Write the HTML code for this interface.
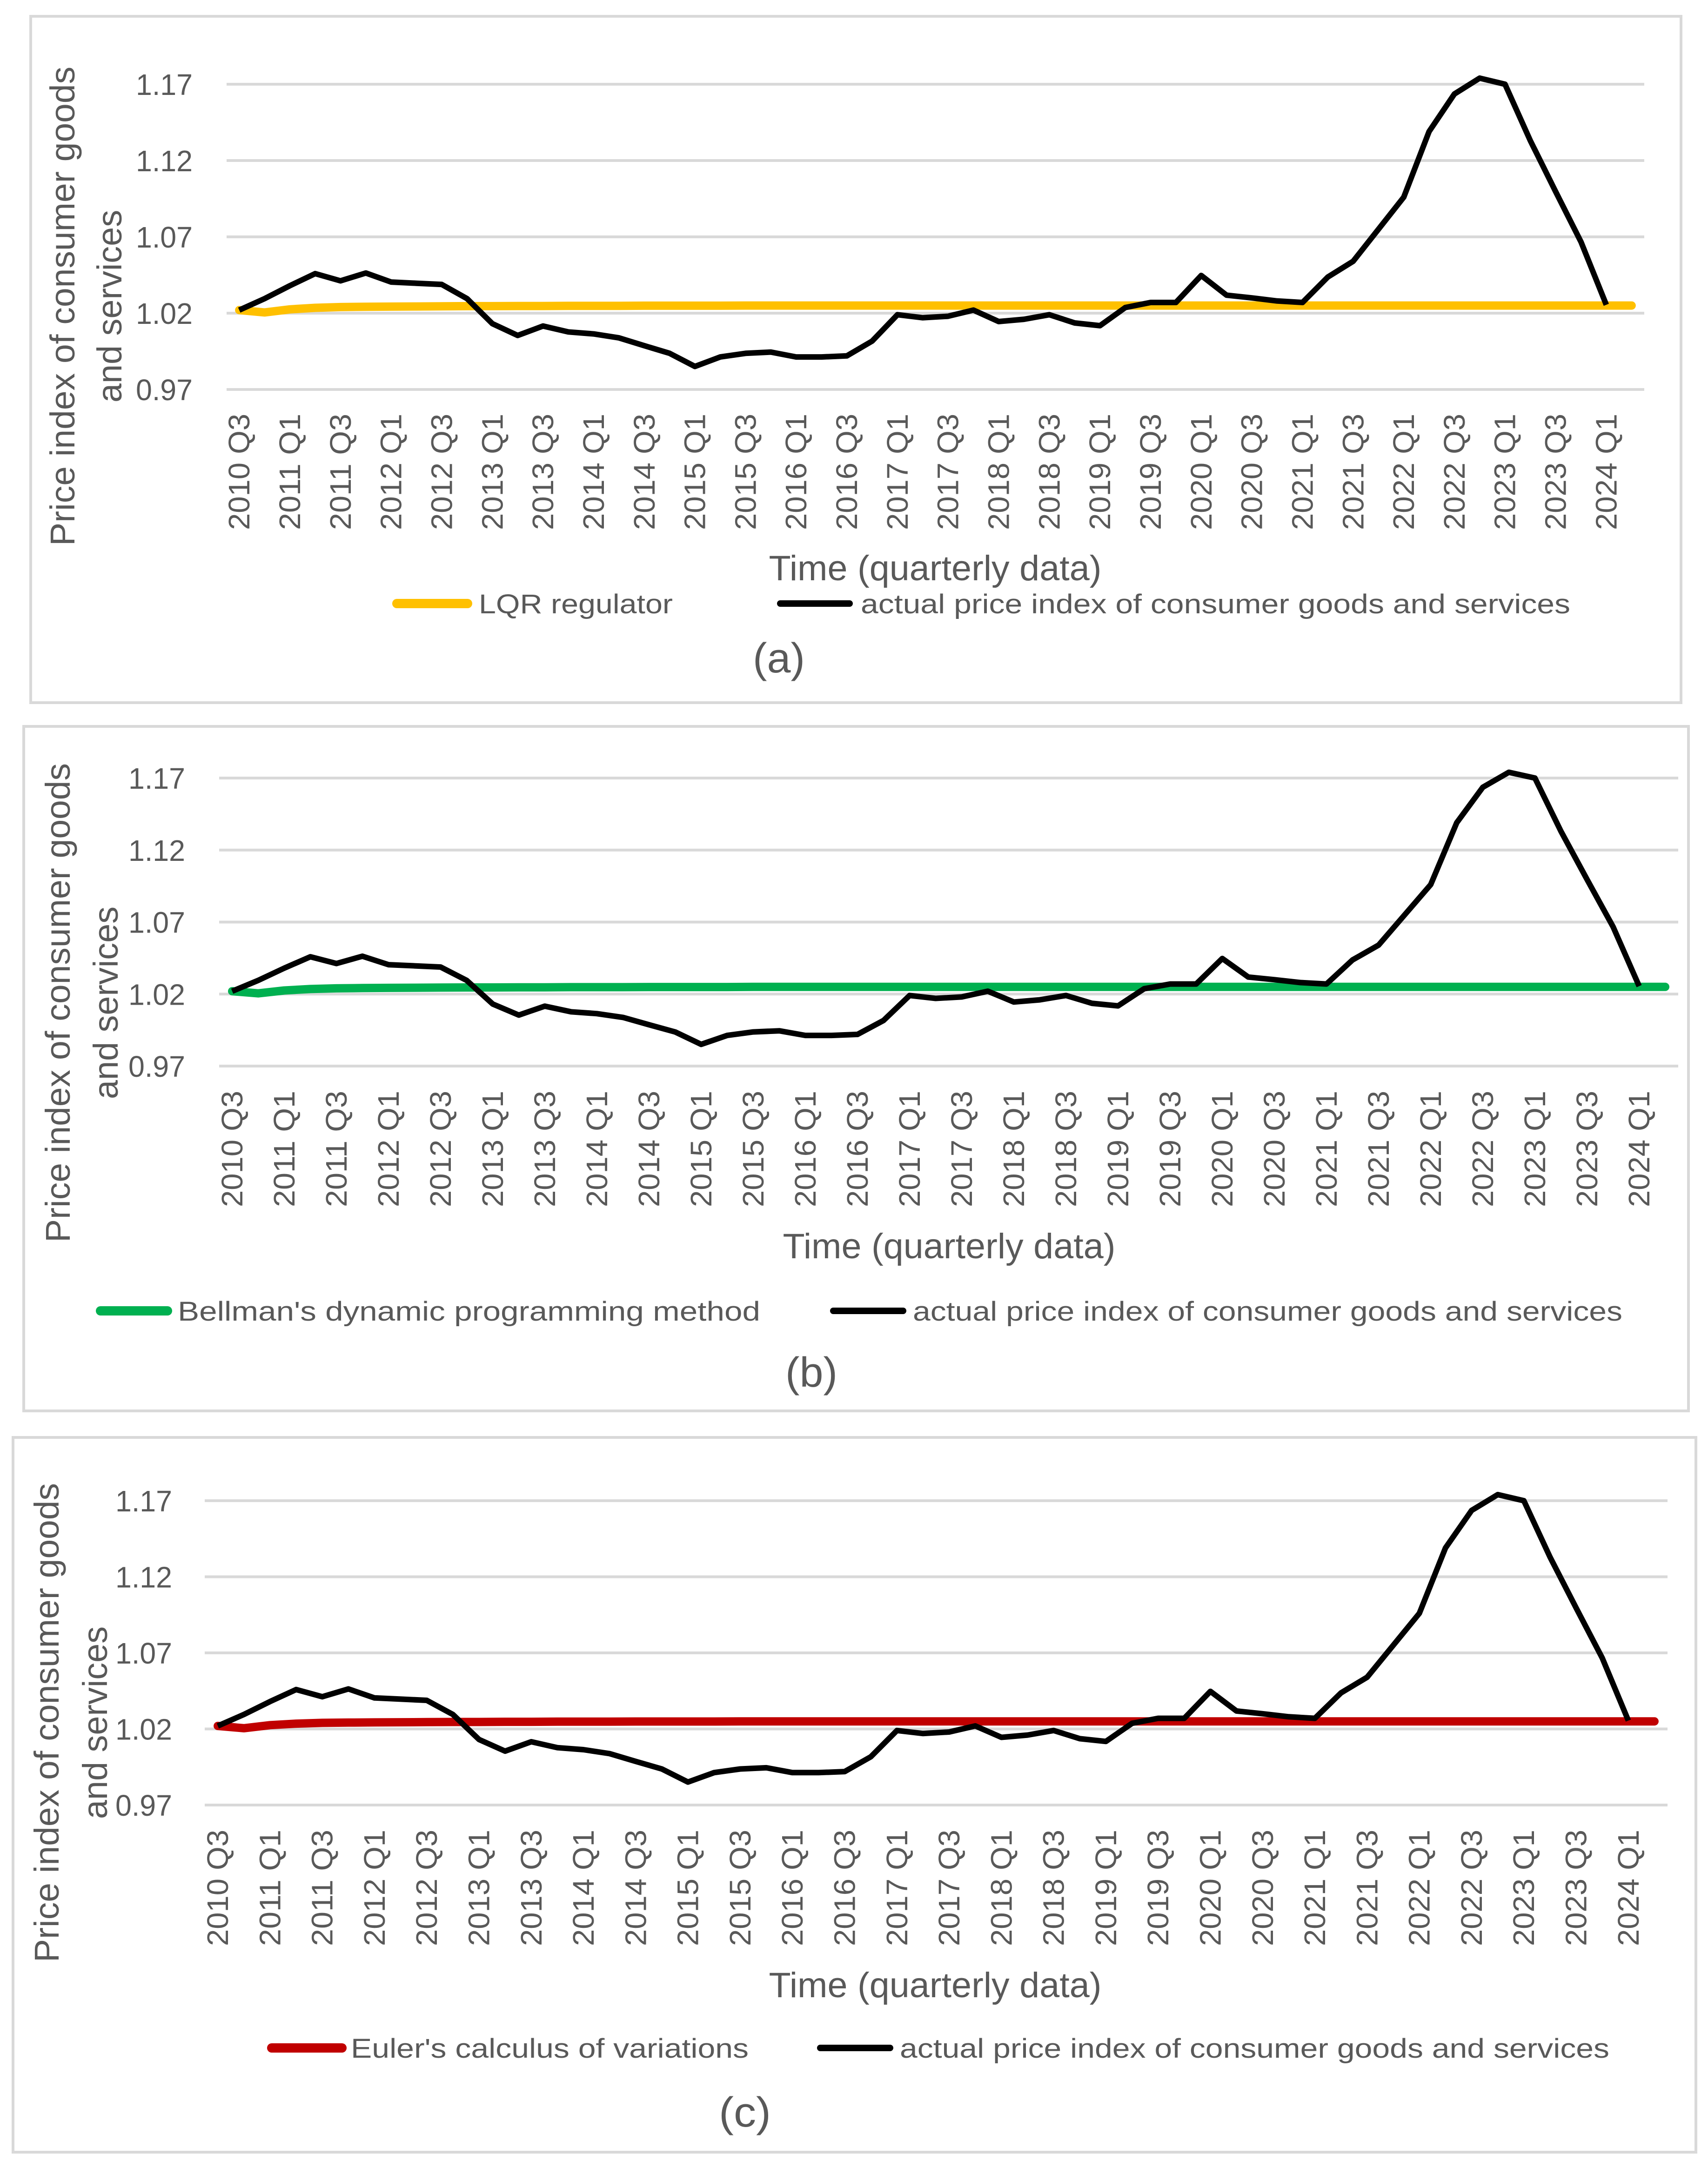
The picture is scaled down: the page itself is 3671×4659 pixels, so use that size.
<!DOCTYPE html>
<html><head><meta charset="utf-8"><style>
html,body{margin:0;padding:0;background:#fff;}
svg{display:block;}
text{font-family:"Liberation Sans",sans-serif;fill:#595959;}
</style></head>
<body>
<svg id="fig" width="3671" height="4659" viewBox="0 0 3671 4659" xmlns="http://www.w3.org/2000/svg"></svg>
<script>
const categories=["2010 Q3","2010 Q4","2011 Q1","2011 Q2","2011 Q3","2011 Q4","2012 Q1","2012 Q2","2012 Q3","2012 Q4","2013 Q1","2013 Q2","2013 Q3","2013 Q4","2014 Q1","2014 Q2","2014 Q3","2014 Q4","2015 Q1","2015 Q2","2015 Q3","2015 Q4","2016 Q1","2016 Q2","2016 Q3","2016 Q4","2017 Q1","2017 Q2","2017 Q3","2017 Q4","2018 Q1","2018 Q2","2018 Q3","2018 Q4","2019 Q1","2019 Q2","2019 Q3","2019 Q4","2020 Q1","2020 Q2","2020 Q3","2020 Q4","2021 Q1","2021 Q2","2021 Q3","2021 Q4","2022 Q1","2022 Q2","2022 Q3","2022 Q4","2023 Q1","2023 Q2","2023 Q3","2023 Q4","2024 Q1","2024 Q2"];
const actualValues=[1.022,1.0295,1.038,1.0459,1.0412,1.0463,1.0404,1.0396,1.0388,1.0295,1.0131,1.0054,1.0116,1.0077,1.0064,1.0038,0.9987,0.9937,0.9851,0.9913,0.9937,0.9945,0.9913,0.9913,0.992,1.0017,1.019,1.017,1.018,1.022,1.0145,1.016,1.019,1.0136,1.0118,1.0237,1.027,1.027,1.0447,1.0318,1.030,1.028,1.027,1.0437,1.054,1.075,1.096,1.139,1.1636,1.174,1.170,1.133,1.0996,1.0667,1.0255];
const lqrValues=[1.022,1.0205,1.0225,1.0235,1.024,1.0242,1.0243,1.0244,1.0245,1.0246,1.0246,1.0247,1.0247,1.0248,1.0248,1.0248,1.0249,1.0249,1.0249,1.0249,1.025,1.025,1.025,1.025,1.025,1.025,1.025,1.025,1.025,1.025,1.025,1.025,1.025,1.025,1.025,1.025,1.025,1.025,1.025,1.025,1.025,1.025,1.025,1.025,1.025,1.025,1.025,1.025,1.025,1.025,1.025,1.025,1.025,1.025,1.025,1.025];
const bellmanValues=[1.022,1.0205,1.0225,1.0235,1.024,1.0242,1.0243,1.0244,1.0245,1.0246,1.0246,1.0247,1.0247,1.0248,1.0248,1.0248,1.0249,1.0249,1.0249,1.0249,1.025,1.025,1.025,1.025,1.025,1.025,1.025,1.025,1.025,1.025,1.025,1.025,1.025,1.025,1.025,1.025,1.025,1.025,1.025,1.025,1.025,1.025,1.025,1.025,1.025,1.025,1.025,1.025,1.025,1.025,1.025,1.025,1.025,1.025,1.025,1.025];
const eulerValues=[1.022,1.0205,1.0225,1.0235,1.024,1.0242,1.0243,1.0244,1.0245,1.0246,1.0246,1.0247,1.0247,1.0248,1.0248,1.0248,1.0249,1.0249,1.0249,1.0249,1.025,1.025,1.025,1.025,1.025,1.025,1.025,1.025,1.025,1.025,1.025,1.025,1.025,1.025,1.025,1.025,1.025,1.025,1.025,1.025,1.025,1.025,1.025,1.025,1.025,1.025,1.025,1.025,1.025,1.025,1.025,1.025,1.025,1.025,1.025,1.025];
const yTicks=[0.97,1.02,1.07,1.12,1.17];
const yTickLabels=["0.97","1.02","1.07","1.12","1.17"];
const yMin=0.97, yMax=1.17;

const panels=[
 {id:'a',border:[66,35,3613,1510],left:487,right:3534,yTop:181,yBot:837,tickRight:414,t1:160,t2:261,tcy:658,tickTop:889,timeY:1247,timeX:2010,legY:1297,l1:[843,1015],l1t:1029,l1w:417,l1label:'LQR regulator',l1name:'lqr',l2:[1670,1833],l2t:1850,capY:1445,capX:1674,cap:'(a)',color:'#ffc000',series:lqrValues},
 {id:'b',border:[51,1561,3629,3032],left:471,right:3607,yTop:1672,yBot:2291,tickRight:398,t1:150,t2:253,tcy:2155,tickTop:2344,timeY:2704,timeX:2040,legY:2817,l1:[206,370],l1t:382,l1w:1252,l1label:"Bellman's dynamic programming method",l1name:'bellman',l2:[1784,1948],l2t:1962,capY:2980,capX:1744,cap:'(b)',color:'#00b050',series:bellmanValues},
 {id:'c',border:[28,3089,3645,4625],left:440,right:3584,yTop:3225,yBot:3879,tickRight:370,t1:126,t2:230,tcy:3702,tickTop:3932,timeY:4292,timeX:2010,legY:4401,l1:[574,745],l1t:754,l1w:855,l1label:"Euler's calculus of variations",l1name:'euler',l2:[1756,1920],l2t:1934,capY:4570,capX:1601,cap:'(c)',color:'#c00000',series:eulerValues}
];
const NS='http://www.w3.org/2000/svg';
const svg=document.getElementById('fig');
function mk(tag,attrs,parent,txt){const e=document.createElementNS(NS,tag);for(const k in attrs)e.setAttribute(k,attrs[k]);if(txt!==undefined)e.textContent=txt;parent.appendChild(e);return e;}

panels.forEach(p=>{
  const g=mk('g',{},svg);
  
  
  const b=p.border;
  const fr=mk('rect',{x:b[0],y:b[1],width:b[2]-b[0],height:b[3]-b[1],fill:'none',stroke:'#d9d9d9','stroke-width':6},g);
  
  
  const n=categories.length;
  const step=(p.right-p.left)/n;
  const xS=i=>p.left+step*(i+0.5);
  const yS=v=>p.yBot-(v-yMin)/(yMax-yMin)*(p.yBot-p.yTop);
  yTicks.forEach((t,k)=>{
    const gl=mk('line',{x1:p.left,x2:p.right,y1:yS(t),y2:yS(t),stroke:'#d9d9d9','stroke-width':6},g);
    
    
    const tl=mk('text',{x:p.tickRight,y:yS(t)+23,'font-size':64,'text-anchor':'end',textLength:122,lengthAdjust:'spacingAndGlyphs'},g,yTickLabels[k]);
    
    
  });
  categories.forEach((c,i)=>{
    if(i%2!==0||i>54)return;
    const x=xS(i)+22, y=p.tickTop;
    const tl=mk('text',{x:x,y:y,'font-size':64,'text-anchor':'end',transform:`rotate(-90 ${x} ${y})`,textLength:250,lengthAdjust:'spacingAndGlyphs'},g,c);
    
    
  });
  const t1=mk('text',{x:p.t1,y:p.tcy,'font-size':74,'text-anchor':'middle',transform:`rotate(-90 ${p.t1} ${p.tcy})`,textLength:1030,lengthAdjust:'spacingAndGlyphs'},g,'Price index of consumer goods');
  
  
  const t2=mk('text',{x:p.t2,y:p.tcy,'font-size':74,'text-anchor':'middle',transform:`rotate(-90 ${p.t2} ${p.tcy})`,textLength:414,lengthAdjust:'spacingAndGlyphs'},g,'and services');
  
  
  // series
  const pts=p.series.map((v,i)=>xS(i).toFixed(1)+','+yS(v).toFixed(1)).join(' ');
  const cl=mk('polyline',{points:pts,fill:'none',stroke:p.color,'stroke-width':18,'stroke-linejoin':'round','stroke-linecap':'round'},g);
  
  
  const apts=actualValues.map((v,i)=>xS(i).toFixed(1)+','+yS(v).toFixed(1)).join(' ');
  const al=mk('polyline',{points:apts,fill:'none',stroke:'#000','stroke-width':12,'stroke-linejoin':'round'},g);
  
  
  const tt=mk('text',{x:p.timeX,y:p.timeY,'font-size':76,'text-anchor':'middle',textLength:715,lengthAdjust:'spacingAndGlyphs'},g,'Time (quarterly data)');
  
  
  const lg=mk('g',{},g);
  
  
  const ls1=mk('line',{x1:p.l1[0]+10,x2:p.l1[1]-10,y1:p.legY,y2:p.legY,stroke:p.color,'stroke-width':20,'stroke-linecap':'round'},lg);
  
  
  const lt1=mk('text',{x:p.l1t,y:p.legY+21,'font-size':58,textLength:p.l1w,lengthAdjust:'spacingAndGlyphs'},lg,p.l1label);
  
  
  const ls2=mk('line',{x1:p.l2[0]+7,x2:p.l2[1]-7,y1:p.legY,y2:p.legY,stroke:'#000','stroke-width':14,'stroke-linecap':'round'},lg);
  
  
  const lt2=mk('text',{x:p.l2t,y:p.legY+21,'font-size':58,textLength:1525,lengthAdjust:'spacingAndGlyphs'},lg,'actual price index of consumer goods and services');
  
  
  const cp=mk('text',{x:p.capX,y:p.capY,'font-size':90,'text-anchor':'middle',textLength:112,lengthAdjust:'spacingAndGlyphs'},g,p.cap);
  
  
});
</script>
</body></html>
